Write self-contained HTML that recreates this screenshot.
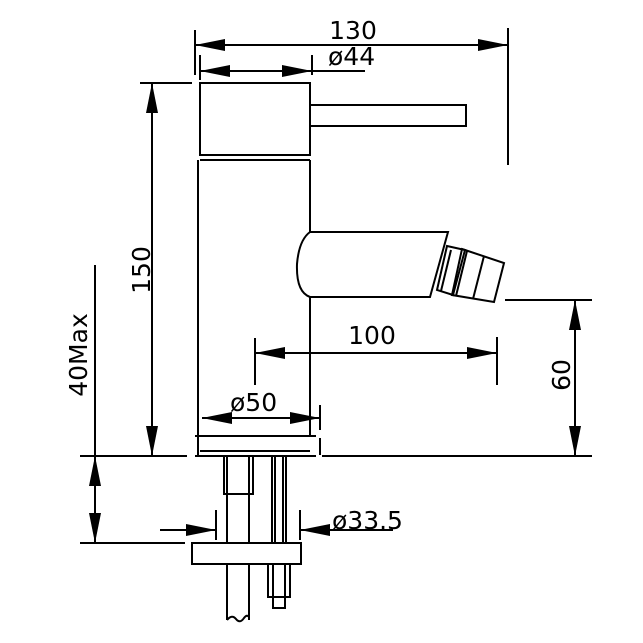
<!DOCTYPE html>
<html><head><style>html,body{margin:0;padding:0;background:#fff}svg{display:block}</style></head><body>
<svg width="643" height="643" viewBox="0 0 643 643" xmlns="http://www.w3.org/2000/svg">
<defs>
<marker id="a" viewBox="0 0 10 4" refX="10" refY="2" markerWidth="30" markerHeight="12" markerUnits="userSpaceOnUse" orient="auto-start-reverse" preserveAspectRatio="none"><path d="M0,0 L10,2 L0,4 z" fill="#000"/></marker>
</defs>
<g stroke="#000" stroke-width="2" fill="none">
<line x1="195" y1="30" x2="195" y2="75"/>
<line x1="508" y1="28" x2="508" y2="165"/>
<line x1="195" y1="45" x2="508" y2="45" marker-start="url(#a)" marker-end="url(#a)"/>
<line x1="200" y1="55" x2="200" y2="80"/>
<line x1="312" y1="55" x2="312" y2="75"/>
<line x1="200" y1="71" x2="312" y2="71" marker-start="url(#a)" marker-end="url(#a)"/>
<line x1="312" y1="71" x2="365" y2="71"/>
<rect x="200" y="83" width="110" height="72"/>
<rect x="310" y="105" width="156" height="21"/>
<line x1="200" y1="160" x2="310" y2="160"/>
<line x1="198" y1="160" x2="198" y2="456"/>
<line x1="310" y1="160" x2="310" y2="232"/>
<line x1="310" y1="297" x2="310" y2="436"/>
<path d="M310,232 L448,232 L430,297 L310,297 Q296,292 297,264 Q299,240 310,232"/>
<polygon points="447,246 465,250 453,295 437,290"/>
<line x1="451" y1="250" x2="441" y2="291"/>
<polygon points="462,249 504,263 494,302 452,295"/>
<line x1="467" y1="251" x2="456" y2="296"/>
<line x1="484" y1="256" x2="473" y2="299"/>
<line x1="140" y1="83" x2="192" y2="83"/>
<line x1="152" y1="83" x2="152" y2="456" marker-start="url(#a)" marker-end="url(#a)"/>
<line x1="95" y1="265" x2="95" y2="456"/>
<line x1="80" y1="456" x2="187" y2="456"/>
<line x1="195" y1="456" x2="316" y2="456"/>
<line x1="322" y1="456" x2="592" y2="456"/>
<line x1="95" y1="456" x2="95" y2="543" marker-start="url(#a)" marker-end="url(#a)"/>
<line x1="80" y1="543" x2="185" y2="543"/>
<line x1="195" y1="436" x2="316" y2="436"/>
<line x1="200" y1="451" x2="310" y2="451"/>
<line x1="320" y1="405" x2="320" y2="430"/>
<line x1="320" y1="438" x2="320" y2="455"/>
<line x1="202" y1="418" x2="320" y2="418" marker-start="url(#a)" marker-end="url(#a)"/>
<line x1="255" y1="338" x2="255" y2="385"/>
<line x1="497" y1="337" x2="497" y2="385"/>
<line x1="255" y1="353" x2="497" y2="353" marker-start="url(#a)" marker-end="url(#a)"/>
<line x1="505" y1="300" x2="592" y2="300"/>
<line x1="575" y1="300" x2="575" y2="456" marker-start="url(#a)" marker-end="url(#a)"/>
<rect x="224" y="456" width="29" height="38"/>
<line x1="227" y1="456" x2="227" y2="494"/>
<line x1="249" y1="456" x2="249" y2="494"/>
<line x1="227" y1="494" x2="227" y2="543"/>
<line x1="249" y1="494" x2="249" y2="543"/>
<line x1="227" y1="564" x2="227" y2="620"/>
<line x1="249" y1="564" x2="249" y2="620"/>
<path d="M227,620 Q232,614 236,619 Q240,624 244,618 Q247,614 249,617"/>
<line x1="272" y1="456" x2="272" y2="543"/>
<line x1="275" y1="456" x2="275" y2="543"/>
<line x1="283" y1="456" x2="283" y2="543"/>
<line x1="286" y1="456" x2="286" y2="543"/>
<rect x="192" y="543" width="109" height="21"/>
<rect x="268" y="564" width="22" height="33"/>
<line x1="273" y1="564" x2="273" y2="597"/>
<line x1="285" y1="564" x2="285" y2="597"/>
<rect x="273" y="597" width="12" height="11"/>
<line x1="216" y1="510" x2="216" y2="540"/>
<line x1="300" y1="510" x2="300" y2="540"/>
<line x1="160" y1="530" x2="216" y2="530" marker-end="url(#a)"/>
<line x1="393" y1="530" x2="300" y2="530" marker-end="url(#a)"/>
</g>
<g font-family="DejaVu Sans, sans-serif" font-size="25" fill="#000">
<text x="353" y="39" text-anchor="middle">130</text>
<text x="328" y="65">ø44</text>
<text x="372" y="344" text-anchor="middle">100</text>
<text x="230" y="411">ø50</text>
<text x="332" y="529">ø33.5</text>
<text transform="translate(150,270) rotate(-90)" text-anchor="middle">150</text>
<text transform="translate(87,355) rotate(-90)" text-anchor="middle">40Max</text>
<text transform="translate(570,375) rotate(-90)" text-anchor="middle">60</text>
</g>
</svg>
</body></html>
